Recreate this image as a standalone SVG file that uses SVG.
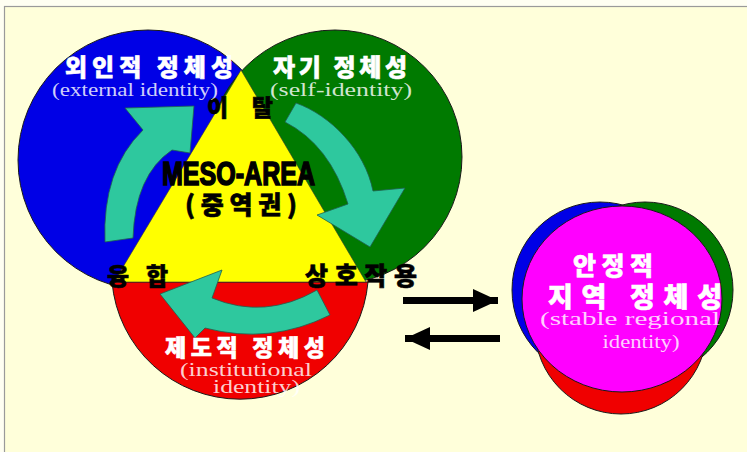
<svg xmlns="http://www.w3.org/2000/svg" width="747" height="452" viewBox="0 0 747 452">
<style>
.ko{font-family:"Noto Sans CJK KR","Noto Sans",sans-serif;font-weight:900;text-anchor:middle;stroke-width:0.6}
.w{fill:#ffffff;stroke:#ffffff}
.b{fill:#000000;stroke:#000000}
.en{font-family:"Liberation Serif",serif;fill:#ffffff;fill-opacity:0.82;text-anchor:middle}
.shape{stroke:#1a1a1a;stroke-width:1}
.cyc{fill:#2EC89E;stroke:#1f5f4f;stroke-width:0.8;stroke-linejoin:round}
.harrow{stroke:#000;stroke-width:7;fill:none}
</style>
<defs>
<marker id="head" markerUnits="userSpaceOnUse" markerWidth="26" markerHeight="24" refX="25" refY="11.5" orient="auto">
<path d="M0,0 L25,11.5 L0,23 Z" fill="#000"/>
</marker>
</defs>
<rect x="0" y="0" width="747" height="452" fill="#FFFFF2"/>
<rect x="4.5" y="6.5" width="760" height="460" fill="#FFFFDA" stroke="#9a9a9a" stroke-width="1.2"/>

<g id="external">
<circle class="shape" cx="148" cy="160" r="130" fill="#0000E6"/>
</g>
<g id="self">
<circle class="shape" cx="335" cy="157" r="127" fill="#007A00"/>
</g>
<g id="institutional">
<path class="shape" d="M112,282 A128.5,128.5 0 0 0 368,282 Z" fill="#F00000"/>
</g>
<g id="meso">
<polygon points="241,70 114,282 366,282" fill="#FFFF00" stroke="#333" stroke-width="0.6"/>
</g>

<g id="connectors">
<path class="cyc" d="M105,242 Q102,170 143,130 L125,108 L194,106 L190,153 L172,150 Q135,175 133,238 Z"/>
<path class="cyc" d="M285,122 L296,103 C330,115 365,150 373,191 L405,188 L370,247 L317,215 L348,204 Q330,145 285,122 Z"/>
<path class="cyc" d="M317,290 Q265,320 212,298 L222,270 L160,294 L195,338 L205,328 Q270,345 330,315 Z"/>
<line class="harrow" x1="403" y1="300.5" x2="498" y2="300.5" marker-end="url(#head)"/>
<line class="harrow" x1="500" y1="338.5" x2="405" y2="338.5" marker-end="url(#head)"/>
<text class="ko b" x="240" y="116" font-size="23" textLength="66" lengthAdjust="spacing">이 탈</text>
<text class="ko b" x="137.5" y="285" font-size="24" textLength="61" lengthAdjust="spacing">융 합</text>
<text class="ko b" x="361" y="285" font-size="25" textLength="112" lengthAdjust="spacing">상호작용</text>
</g>

<g id="external-label">
<text class="ko w" x="149" y="76" font-size="24" textLength="168" lengthAdjust="spacing">외인적 정체성</text>
<text class="en" x="135" y="96" font-size="19" textLength="166" lengthAdjust="spacingAndGlyphs">(external identity)</text>
</g>
<g id="self-label">
<text class="ko w" x="340" y="76" font-size="24" textLength="134" lengthAdjust="spacing">자기 정체성</text>
<text class="en" x="341" y="96" font-size="19" textLength="142" lengthAdjust="spacingAndGlyphs">(self-identity)</text>
</g>
<g id="meso-label">
<text x="238.5" y="185" font-family="Liberation Sans, Arial, sans-serif" font-weight="bold" font-size="33" text-anchor="middle" textLength="153" lengthAdjust="spacingAndGlyphs" fill="#000" stroke="#000" stroke-width="1.6">MESO-AREA</text>
<text class="ko b" x="241" y="214" font-size="25" textLength="112" lengthAdjust="spacing">(중역권)</text>
</g>
<g id="institutional-label">
<text class="ko w" x="245" y="356" font-size="23" textLength="160" lengthAdjust="spacing">제도적 정체성</text>
<text class="en" x="246" y="376" font-size="19" textLength="132" lengthAdjust="spacingAndGlyphs">(institutional</text>
<text class="en" x="256.5" y="393" font-size="19" textLength="87" lengthAdjust="spacingAndGlyphs">identity)</text>
</g>

<g id="stable">
<circle class="shape" cx="600" cy="290" r="88" fill="#0000E6"/>
<circle class="shape" cx="645" cy="290" r="88" fill="#007A00"/>
<circle class="shape" cx="621" cy="328" r="86" fill="#F00000"/>
<ellipse class="shape" cx="622" cy="299" rx="100" ry="93" fill="#FF00FF"/>
<text class="ko w" x="613" y="275" font-size="25" textLength="80" lengthAdjust="spacing">안정적</text>
<text class="ko w" x="635" y="307" font-size="27" textLength="174" lengthAdjust="spacing">지역 정체성</text>
<text class="en" x="630" y="325" font-size="19" textLength="180" lengthAdjust="spacingAndGlyphs">(stable regional</text>
<text class="en" x="641" y="348" font-size="19" textLength="77" lengthAdjust="spacingAndGlyphs">identity)</text>
</g>
</svg>
